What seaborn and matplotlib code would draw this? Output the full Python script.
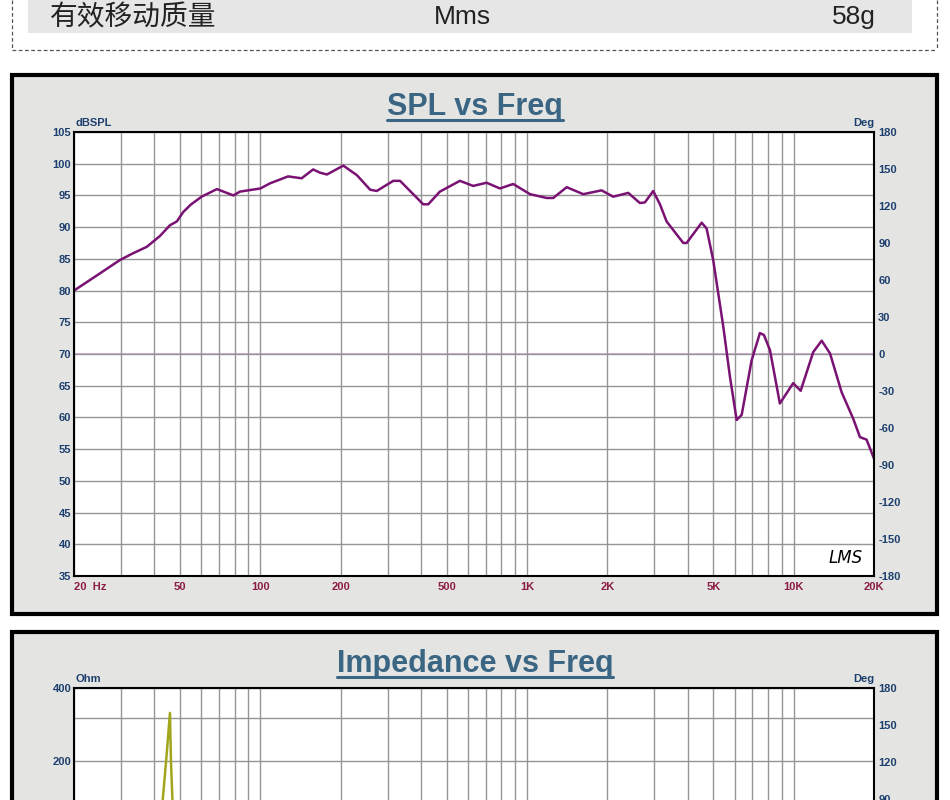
import matplotlib
matplotlib.use("Agg")
import matplotlib.pyplot as plt
import seaborn as sns
import pandas as pd
from matplotlib.patches import Rectangle
from matplotlib.lines import Line2D
from matplotlib.ticker import FixedLocator, LogLocator, NullFormatter, FuncFormatter

# --- data ---
spec_name = "有效移动质量"
spec_symbol = "Mms"
spec_value = "58g"

spl_freq = [20, 24, 29.7, 33, 37.5, 42, 45.8, 48.6, 51.4, 55, 60.2, 68.7, 79.2, 83.8, 100,
            108.6, 127, 142.8, 157.7, 167, 177.6, 204.6, 230, 258, 273, 315, 334,
            408, 426, 471, 560, 628, 705, 791, 887, 1026, 1184, 1254, 1408, 1624,
            1903, 2104, 2396, 2650, 2766, 2972, 3150, 3336, 3854, 3966, 4516, 4712,
            4990, 5444, 5766, 6110, 6380, 6952, 7468, 7730, 8148, 8872, 9954, 10618,
            11834, 12730, 13678, 15116, 16714, 17714, 18758, 20000]
spl_db = [80.0, 82.2, 84.8, 85.8, 86.9, 88.6, 90.3, 90.9, 92.4, 93.6, 94.8, 96.0, 95.0, 95.6, 96.1,
          96.9, 98.0, 97.7, 99.1, 98.6, 98.3, 99.7, 98.2, 95.9, 95.7, 97.3, 97.3,
          93.6, 93.6, 95.6, 97.3, 96.5, 97.0, 96.1, 96.8, 95.2, 94.6, 94.6, 96.3, 95.2,
          95.8, 94.8, 95.4, 93.8, 93.9, 95.7, 93.6, 90.9, 87.5, 87.5, 90.7, 89.8,
          84.8, 74.3, 66.4, 59.6, 60.4, 69.0, 73.3, 73.0, 70.6, 62.2, 65.4, 64.2,
          70.3, 72.1, 70.1, 64.0, 59.8, 56.9, 56.5, 53.5]

imp_freq = [20, 25, 30, 35, 40, 43.0, 44.3, 45.8, 46.2, 46.8, 50, 60, 80, 100, 150,
            200, 300, 500, 1000, 2000, 5000, 10000, 20000]
imp_ohm = [12, 16, 24, 40, 80, 138, 200, 316, 200, 138, 60, 30, 15, 11, 9,
           8.5, 8.2, 8.5, 10, 13, 20, 30, 45]

freq_ticks = [20, 50, 100, 200, 500, 1000, 2000, 5000, 10000, 20000]
freq_labels = ["20  Hz", "50", "100", "200", "500", "1K", "2K", "5K", "10K", "20K"]
spl_ticks = list(range(35, 106, 5))
deg_ticks = list(range(-180, 181, 30))
imp_ticks = [400, 200]
imp_deg_ticks = [180, 150, 120, 90]

W, H = 950, 800
def fx(px):
    return px / W
def fy(py):
    return 1 - py / H

sns.set_style("white")
plt.rcParams["font.family"] = ["Liberation Sans", "DejaVu Sans"]
plt.rcParams["axes.unicode_minus"] = False

fig = plt.figure(figsize=(9.5, 8), dpi=100)
fig.patch.set_facecolor("white")

BLUE = "#1d3f6e"
RED = "#8c1c44"
TITLE = "#3a6583"
GRID = "#959595"
PANEL = "#e4e5e3"

# --- spec row on top ---
fig.add_artist(Rectangle((fx(28), fy(33)), (912 - 28) / W, 33 / H,
                         facecolor="#e6e6e6", edgecolor="none", zorder=-2))
dash = dict(color="#555555", lw=0.9, linestyle=(0, (3, 2)))
fig.add_artist(Line2D([fx(12), fx(12)], [fy(0), fy(50)], **dash))
fig.add_artist(Line2D([fx(937), fx(937)], [fy(0), fy(50)], **dash))
fig.add_artist(Line2D([fx(12), fx(937)], [fy(50), fy(50)], **dash))
fig.text(fx(50), fy(17), spec_name, family=["Noto Sans CJK SC", "DejaVu Sans"],
         fontsize=20, color="#222222", va="center", ha="left")
fig.text(fx(462), fy(17), spec_symbol, fontsize=19, color="#222222", va="center", ha="center")
fig.text(fx(876), fy(17), spec_value, fontsize=19, color="#222222", va="center", ha="right")

# --- panels ---
for top, bottom in [(75, 614), (632, 1200)]:
    fig.add_artist(Rectangle((fx(12), fy(bottom)), (937 - 12) / W, (bottom - top) / H,
                             facecolor=PANEL, edgecolor="black", lw=3, zorder=-1))


def style_axes(ax, axr, title, title_base, left_unit, right_ticks, show_x=True):
    ax.set_xscale("log")
    ax.set_xlim(20, 20000)
    ax.xaxis.set_major_locator(FixedLocator(freq_ticks))
    ax.xaxis.set_major_formatter(FuncFormatter(lambda v, p: freq_labels[freq_ticks.index(int(round(v)))]
                                               if int(round(v)) in freq_ticks else ""))
    ax.xaxis.set_minor_locator(LogLocator(base=10, subs=range(1, 10), numticks=30))
    ax.xaxis.set_minor_formatter(NullFormatter())
    ax.grid(True, which="both", axis="x", color=GRID, lw=1.0)
    ax.grid(True, which="both", axis="y", color=GRID, lw=1.0)
    ax.tick_params(axis="both", which="both", length=0)
    ax.tick_params(axis="y", labelcolor=BLUE, pad=2, labelsize=8)
    ax.tick_params(axis="x", labelcolor=RED, pad=4, labelsize=8, labelbottom=show_x)
    for lab in ax.get_xticklabels() + ax.get_yticklabels():
        lab.set_fontweight("bold")
    if show_x:
        ax.get_xticklabels()[0].set_horizontalalignment("left")
    for s in ax.spines.values():
        s.set_color("black")
        s.set_linewidth(1.5)
    ax.set_xlabel("")
    ax.set_ylabel("")
    ax.patch.set_visible(False)
    ax.set_zorder(2)

    axr.set_ylim(-180, 180)
    axr.set_yticks(right_ticks)
    axr.tick_params(axis="y", length=0, labelcolor=BLUE, pad=3, labelsize=8)
    for lab in axr.get_yticklabels():
        lab.set_fontweight("bold")
    axr.set_facecolor("white")
    axr.patch.set_visible(True)
    axr.set_zorder(1)
    for s in axr.spines.values():
        s.set_visible(False)
    axr.grid(False)

    ax.annotate(left_unit, xy=(0, 1), xycoords="axes fraction", xytext=(1, 3),
                textcoords="offset points", ha="left", va="bottom",
                fontsize=8, fontweight="bold", color=BLUE)
    ax.annotate("Deg", xy=(1, 1), xycoords="axes fraction", xytext=(0, 3),
                textcoords="offset points", ha="right", va="bottom",
                fontsize=8, fontweight="bold", color=BLUE)
    t = fig.text(fx(475), fy(title_base), title, fontsize=22, fontweight="bold",
                 color=TITLE, ha="center", va="baseline")
    return t


# --- SPL chart ---
ax1 = fig.add_axes([fx(74), fy(576), 800 / W, 444 / H])
ax1r = ax1.twinx()
spl_df = pd.DataFrame({"freq": spl_freq, "db": spl_db})
ax1.set_xscale("log")
sns.lineplot(data=spl_df, x="freq", y="db", ax=ax1, color="#7a1273", lw=1.8)
ax1.set_ylim(35, 105)
ax1.set_yticks(spl_ticks)
ax1r.axhline(0, color="#d9a0d9", lw=1.2)
t1 = style_axes(ax1, ax1r, "SPL vs Freq", 115, "dBSPL", deg_ticks)
ax1.text(0.965, 0.04, "LMS", transform=ax1.transAxes, ha="center", va="center",
         fontsize=12, style="italic", family="DejaVu Sans", color="black")

# --- Impedance chart (cut off at the bottom of the picture) ---
ax2 = fig.add_axes([fx(74), fy(1132), 800 / W, 444 / H])
ax2r = ax2.twinx()
imp_df = pd.DataFrame({"freq": imp_freq, "ohm": imp_ohm})
ax2.set_xscale("log")
ax2.set_yscale("log")
sns.lineplot(data=imp_df, x="freq", y="ohm", ax=ax2, color="#a2a61c", lw=1.8)
ax2.set_ylim(6, 400)
ax2.yaxis.set_major_locator(FixedLocator(imp_ticks))
ax2.yaxis.set_major_formatter(FuncFormatter(lambda v, p: f"{v:g}"))
ax2.yaxis.set_minor_locator(LogLocator(base=10, subs=range(1, 10), numticks=30))
ax2.yaxis.set_minor_formatter(NullFormatter())
t2 = style_axes(ax2, ax2r, "Impedance vs Freq", 672, "Ohm", imp_deg_ticks, show_x=False)

# underline the titles
fig.canvas.draw()
renderer = fig.canvas.get_renderer()
for t, base in [(t1, 115), (t2, 672)]:
    bb = t.get_window_extent(renderer)
    fig.add_artist(Line2D([bb.x0 / W, bb.x1 / W], [fy(base + 5), fy(base + 5)],
                          color=TITLE, lw=2.2))

fig.savefig("out.png", dpi=100)
